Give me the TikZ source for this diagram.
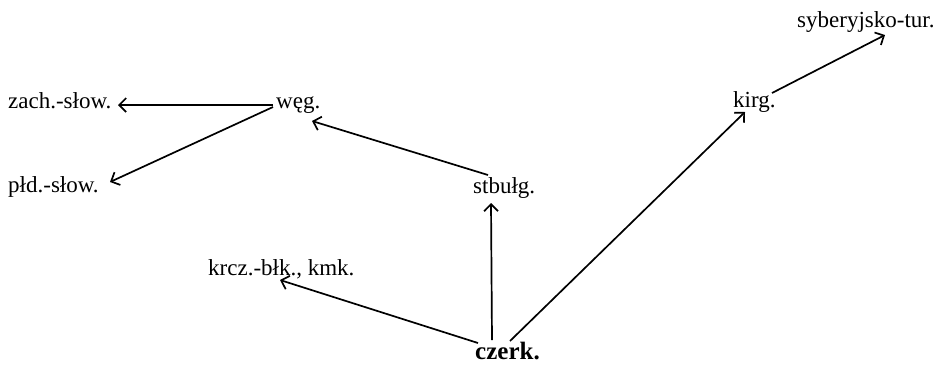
\documentclass[tikz,border=0pt]{standalone}
\usepackage{fontspec}
\setmainfont{Liberation Serif}
\usetikzlibrary{arrows.meta,calc}
\begin{document}
\begin{tikzpicture}[x=1pt,y=-1pt,
  lbl/.style={inner sep=0pt,anchor=base west,font=\fontsize{23}{26}\selectfont},
  big/.style={inner sep=0pt,anchor=base west,font=\fontsize{25}{28}\selectfont\bfseries},
  conn/.style={line width=1.7pt,-{Straight Barb[length=7pt,width=14pt,line width=1.7pt]}}]
\useasboundingbox (0,0) rectangle (940,365);
\node[lbl] (zach) at (8,108) {zach.-słow.};
\node[lbl] (weg) at (276,108) {węg.};
\node[lbl] (pld) at (8,192) {płd.-słow.};
\node[lbl] (stb) at (473,193) {stbułg.};
\node[lbl] (krcz) at (208,275) {krcz.-błk., kmk.};
\node[big] (czerk) at (475,359) {czerk.};
\node[lbl] (kirg) at (733,107) {kirg.};
\node[lbl] (syb) at (797,27) {syberyjsko-tur.};
\draw[conn] ($(weg.base west)+(-3,-3)$) -- ($(zach.base west)+(110,-3)$);
\draw[conn] ($(weg.base west)+(-3,-1)$) -- ($(pld.base west)+(102,-10)$);
\draw[conn] ($(stb.base west)+(15,-18)$) -- ($(weg.base west)+(36,13)$);
\draw[conn] ($(czerk.base west)+(3,-16)$) -- ($(krcz.base west)+(72,5)$);
\draw[conn] ($(czerk.base west)+(17,-19)$) -- ($(stb.base west)+(18,10)$);
\draw[conn] ($(czerk.base west)+(35,-18)$) -- ($(kirg.base west)+(12,5)$);
\draw[conn] ($(kirg.base west)+(39,-14)$) -- ($(syb.base west)+(88,8)$);
\end{tikzpicture}
\end{document}
